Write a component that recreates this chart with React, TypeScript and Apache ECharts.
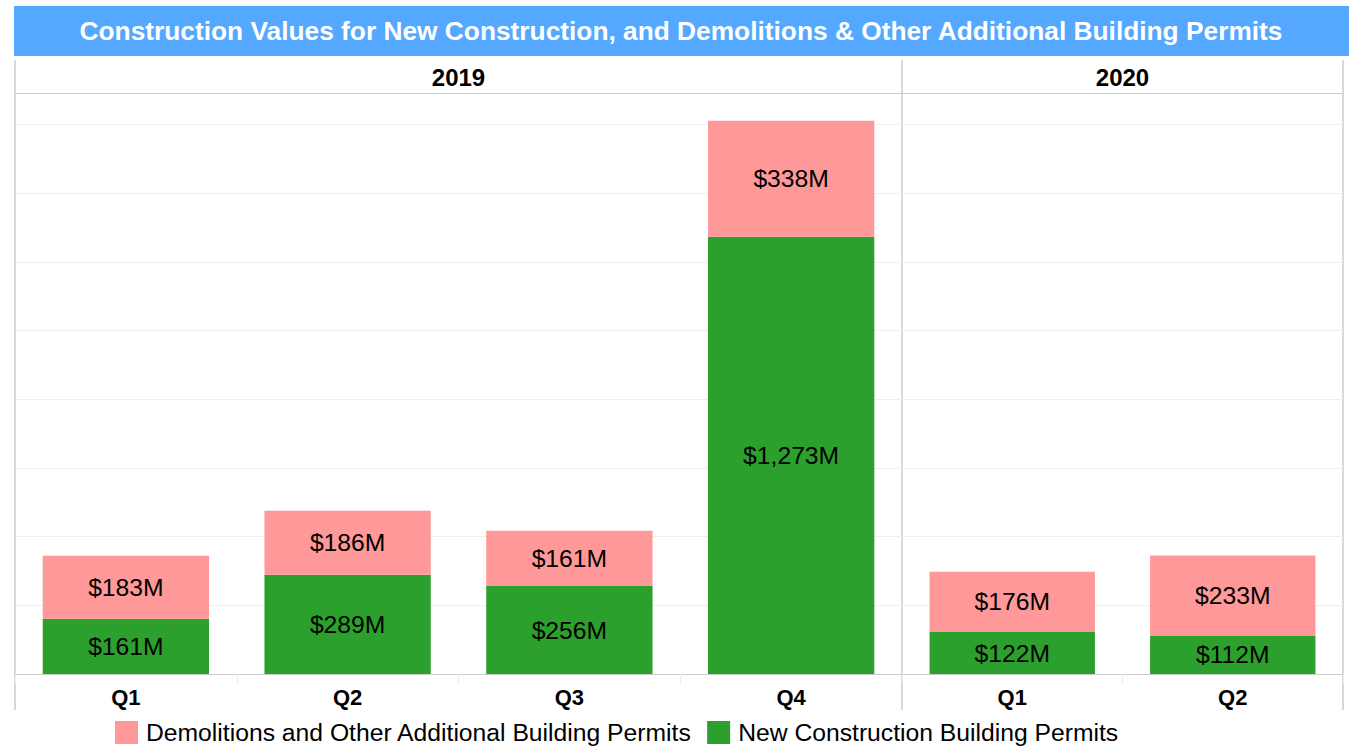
import React, { useEffect, useRef } from "react";
import * as echarts from "echarts";

const titleText =
  "Construction Values for New Construction, and Demolitions & Other Additional Building Permits";
const years = ["2019", "2020"];
const quarters2019 = ["Q1", "Q2", "Q3", "Q4"];
const quarters2020 = ["Q1", "Q2"];
const newConstruction2019 = [161, 289, 256, 1273];
const demolitions2019 = [183, 186, 161, 338];
const newConstruction2020 = [122, 112];
const demolitions2020 = [176, 233];
const seriesNames = [
  "Demolitions and Other Additional Building Permits",
  "New Construction Building Permits",
];

const PINK = "#FF9999";
const GREEN = "#2CA02C";
const FONT = "Liberation Sans, Arial, sans-serif";

const fmt = (v: number) => "$" + v.toLocaleString("en-US") + "M";

export default function App() {
  const ref = useRef<HTMLDivElement>(null);
  useEffect(() => {
    document.body.style.margin = "0";
    const chart = echarts.init(ref.current!, null, { renderer: "svg" });
    const totals = [
      ...newConstruction2019.map((v, i) => v + demolitions2019[i]),
      ...newConstruction2020.map((v, i) => v + demolitions2020[i]),
    ];
    const yMax = Math.max(...totals) * 1.05;
    const top = 93;
    const bottom = 748 - 674;
    const grids = [
      { left: 15, width: 887, top, bottom },
      { left: 902, width: 441, top, bottom },
    ];
    const quarterSets = [quarters2019, quarters2020];
    const xAxes: any[] = [];
    quarterSets.forEach((q, gi) => {
      xAxes.push({
        type: "category",
        gridIndex: gi,
        data: q,
        position: "bottom",
        axisLine: { show: true, lineStyle: { color: "#cccccc", width: 1 } },
        axisTick: { show: true, length: 10, lineStyle: { color: "#eeeeee" } },
        axisLabel: {
          fontFamily: FONT,
          fontSize: 22,
          fontWeight: "bold",
          color: "#000",
          margin: 12,
        },
      });
    });
    years.forEach((y, gi) => {
      xAxes.push({
        type: "category",
        gridIndex: gi,
        data: [y],
        position: "top",
        axisLine: { show: true, lineStyle: { color: "#cccccc", width: 1 } },
        axisTick: { show: false },
        axisLabel: {
          fontFamily: FONT,
          fontSize: 24,
          fontWeight: "bold",
          color: "#000",
          margin: 4,
        },
      });
    });
    const yAxes = [0, 1].map((gi) => ({
      type: "value",
      gridIndex: gi,
      min: 0,
      max: yMax,
      interval: 200,
      axisLabel: { show: false },
      axisLine: { show: false },
      axisTick: { show: false },
      splitLine: { show: true, lineStyle: { color: "#eeeeee", width: 1 } },
    }));
    const label = {
      show: true,
      position: "inside",
      formatter: (p: any) => fmt(p.value),
      fontFamily: FONT,
      fontSize: 24.7,
      color: "#000",
    };
    const mk = (name: string, data: number[], gi: number, color: string) => ({
      name,
      type: "bar",
      xAxisIndex: gi,
      yAxisIndex: gi,
      stack: "s" + gi,
      data,
      barWidth: "75%",
      itemStyle: { color },
      label,
    });
    const lineStyle = { stroke: "#cccccc", lineWidth: 1.5 };
    const option: any = {
      animation: false,
      grid: grids,
      xAxis: xAxes,
      yAxis: yAxes,
      legend: {
        data: seriesNames,
        bottom: 3,
        left: 115,
        padding: 0,
        itemWidth: 23,
        itemHeight: 23,
        itemGap: 15,
        icon: "rect",
        textStyle: {
          fontFamily: FONT,
          fontSize: 24.7,
          color: "#000",
          padding: [0, 0, 0, 3],
        },
      },
      series: [
        mk(seriesNames[1], newConstruction2019, 0, GREEN),
        mk(seriesNames[0], demolitions2019, 0, PINK),
        mk(seriesNames[1], newConstruction2020, 1, GREEN),
        mk(seriesNames[0], demolitions2020, 1, PINK),
      ],
      graphic: [
        {
          type: "rect",
          shape: { x: 14, y: 6, width: 1335, height: 50 },
          style: { fill: "#55A8FF" },
          z: 0,
        },
        {
          type: "text",
          x: 681,
          y: 31,
          style: {
            text: titleText,
            fill: "#fff",
            font: "bold 26.3px " + FONT,
            textAlign: "center",
            textVerticalAlign: "middle",
          },
          z: 1,
        },
        { type: "line", shape: { x1: 15, y1: 60, x2: 15, y2: 710 }, style: lineStyle },
        { type: "line", shape: { x1: 902, y1: 60, x2: 902, y2: 710 }, style: lineStyle },
        { type: "line", shape: { x1: 1343, y1: 60, x2: 1343, y2: 710 }, style: lineStyle },
      ],
    };
    chart.setOption(option);
    return () => chart.dispose();
  }, []);
  return <div ref={ref} style={{ width: 1349, height: 748 }} />;
}
